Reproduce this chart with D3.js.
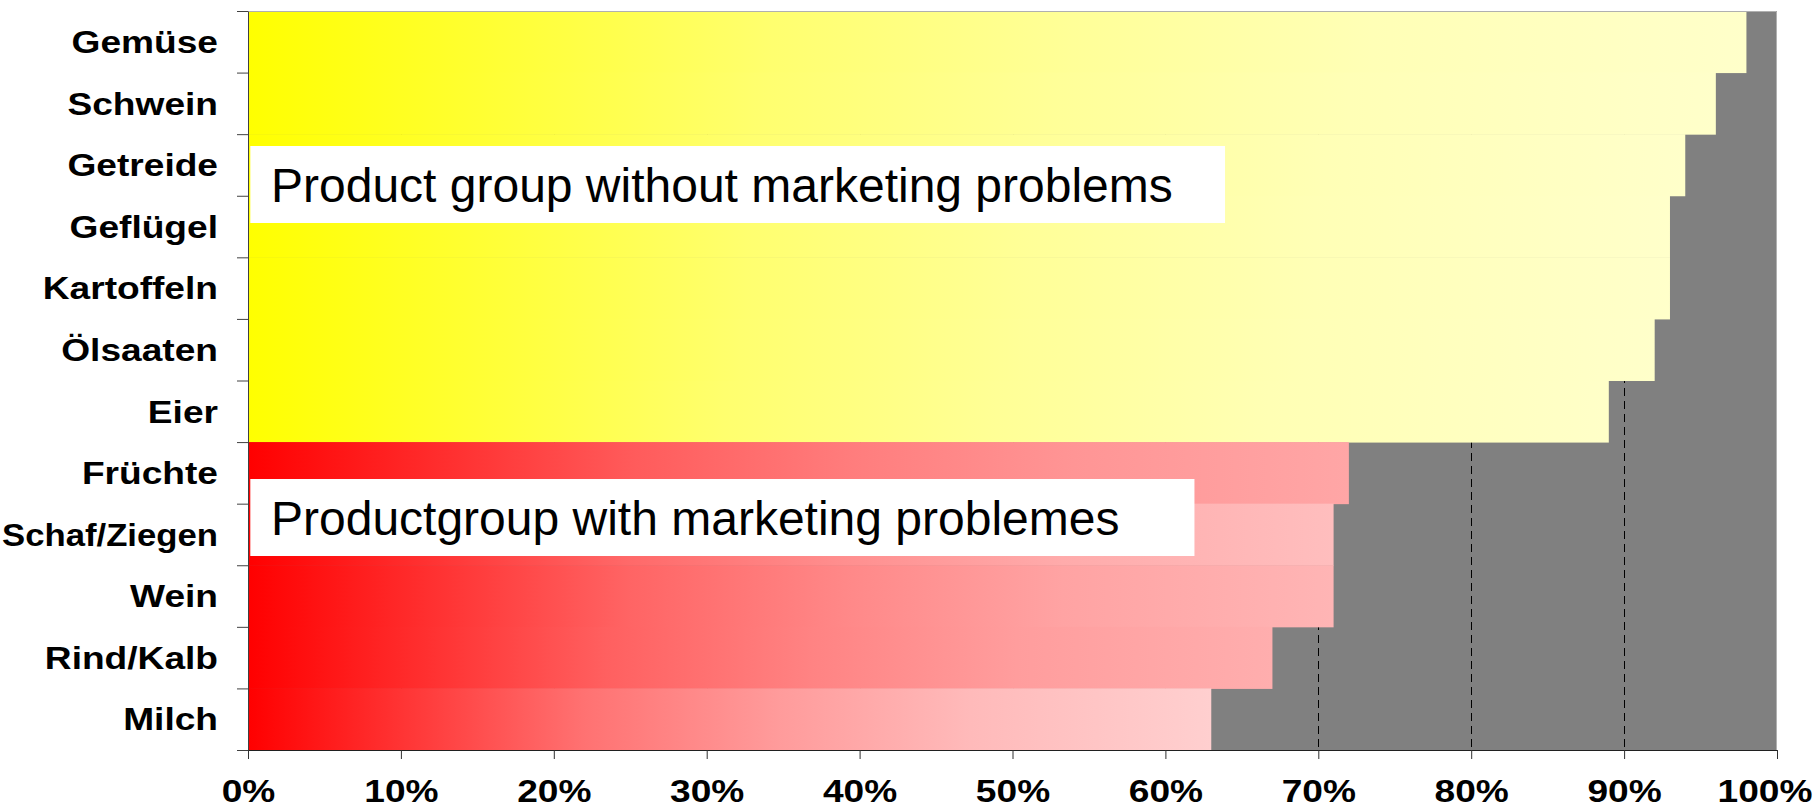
<!DOCTYPE html>
<html>
<head>
<meta charset="utf-8">
<script src="https://cdn.jsdelivr.net/npm/d3@7/dist/d3.min.js"></script>
<style>
  html, body { margin: 0; padding: 0; background: #ffffff; overflow: hidden; }
  svg { display: block; font-family: "Liberation Sans", Arial, sans-serif; }
</style>
</head>
<body>
<svg id="chart" width="1814" height="808"></svg>
<script>
// Product groups and their share (in %)
const categories = ["Gemüse", "Schwein", "Getreide", "Geflügel", "Kartoffeln", "Ölsaaten", "Eier",
                    "Früchte", "Schaf/Ziegen", "Wein", "Rind/Kalb", "Milch"];
const shares = [98, 96, 94, 93, 93, 92, 89, 72, 71, 71, 67, 63];
// group: 0 = without marketing problems, 1 = with marketing problems
const groups = [0, 0, 0, 0, 0, 0, 0, 1, 1, 1, 1, 1];
const xTicks = [0, 10, 20, 30, 40, 50, 60, 70, 80, 90, 100];
const groupLabels = ["Product group without marketing problems", "Productgroup with marketing problemes"];

// fill colours: start colour per group, light end colour per bar
const groupStart = ["#ffff00", "#ff0000"];
const barEnd = ["#ffffca", "#ffffca", "#ffffca", "#ffffca", "#ffffca", "#ffffca", "#ffffc8",
                "#ffa6a6", "#ffbebe", "#ffb5b5", "#ffaeae", "#ffcfcf"];
// shape of the fade along each bar: [offset, mix]
const fadeStops = [[0, 0], [0.35, 0.55], [0.55, 0.75], [0.75, 0.9], [1, 1]];

const W = 1814, H = 808;
const plot = { left: 248, top: 11, right: 1777, bottom: 750 };
const labelScaleX = 1.16;
const labelSize = 32;
const labelRight = 218;

const svg = d3.select("#chart");

const x = d3.scaleLinear().domain([0, 100]).range([plot.left, plot.right]);
const y = d3.scaleBand().domain(categories).range([plot.top, plot.bottom]).padding(0);
const yEdge = d3.scaleLinear().domain([0, categories.length]).range([plot.top, plot.bottom]);

// gradients, one per bar
const defs = svg.append("defs");
categories.forEach((c, i) => {
  const g = defs.append("linearGradient").attr("id", "fade" + i)
    .attr("x1", "0%").attr("x2", "100%").attr("y1", "0%").attr("y2", "0%");
  const mix = d3.interpolateRgb(groupStart[groups[i]], barEnd[i]);
  fadeStops.forEach(([o, m]) => {
    g.append("stop").attr("offset", o).attr("stop-color", mix(m));
  });
});

// plot area background
svg.append("rect")
  .attr("x", plot.left).attr("y", plot.top)
  .attr("width", plot.right - plot.left).attr("height", plot.bottom - plot.top)
  .attr("fill", "#808080");

// dashed vertical gridlines
svg.append("g").selectAll("line")
  .data(xTicks.filter(d => d > 0 && d < 100))
  .join("line")
  .attr("x1", d => Math.round(x(d)) + 0.5).attr("x2", d => Math.round(x(d)) + 0.5)
  .attr("y1", plot.top).attr("y2", plot.bottom)
  .attr("stroke", "#000").attr("stroke-width", 1).attr("stroke-dasharray", "8,5");

// bars
svg.append("g").selectAll("rect")
  .data(categories)
  .join("rect")
  .attr("x", x(0))
  .attr("y", d => y(d))
  .attr("width", (d, i) => x(shares[i]) - x(0))
  .attr("height", y.bandwidth() + 0.5)
  .attr("fill", (d, i) => `url(#fade${i})`);

// plot border (top / right)
svg.append("path")
  .attr("d", `M${plot.left},${plot.top + 0.5}H${plot.right - 0.5}V${plot.bottom}`)
  .attr("fill", "none").attr("stroke", "#b0b0b0").attr("stroke-width", 1);

// group annotations
const boxes = [
  { text: groupLabels[0], y0: 146, x1: 63.9 },
  { text: groupLabels[1], y0: 479, x1: 61.9 }
];
const ann = svg.append("g").selectAll("g").data(boxes).join("g");
ann.append("rect")
  .attr("x", x(0.15)).attr("y", d => d.y0)
  .attr("width", d => x(d.x1) - x(0.15)).attr("height", 77)
  .attr("fill", "#ffffff");
ann.append("text")
  .attr("x", 271).attr("y", d => d.y0 + 56)
  .attr("font-size", 48).attr("fill", "#000")
  .text(d => d.text);

// left axis: line, ticks at band edges, category labels
const leftAxis = svg.append("g").attr("transform", `translate(${plot.left},0)`);
leftAxis.call(d3.axisLeft(yEdge).tickValues(d3.range(categories.length + 1))
  .tickSize(11).tickSizeOuter(0).tickFormat(""));
leftAxis.select(".domain").attr("stroke", "#404040");
leftAxis.selectAll(".tick line").attr("stroke", "#404040");

svg.append("g").selectAll("g")
  .data(categories)
  .join("g")
  .attr("transform", d => `translate(${labelRight},${y(d) + y.bandwidth() / 2})`)
  .append("text")
  .attr("text-anchor", "end")
  .attr("dy", "0.35em")
  .attr("font-size", labelSize).attr("font-weight", "bold").attr("fill", "#000")
  .text(d => d)
  .attr("transform", function () {
    // widen like the rest, but keep long names inside the page
    const w = this.getComputedTextLength();
    const s = Math.min(labelScaleX, (labelRight - 2) / w);
    return `scale(${s},1)`;
  });

// bottom axis
const bottomAxis = svg.append("g").attr("transform", `translate(0,${plot.bottom})`);
bottomAxis.call(d3.axisBottom(x).tickValues(xTicks).tickSize(9).tickSizeOuter(0)
  .tickPadding(20).tickFormat(d => d + "%"));
bottomAxis.select(".domain").attr("stroke", "#202020");
bottomAxis.selectAll(".tick line").attr("stroke", "#303030");
bottomAxis.selectAll(".tick text")
  .attr("font-size", labelSize).attr("font-weight", "bold").attr("fill", "#000")
  .attr("font-family", "'Liberation Sans', Arial, sans-serif")
  .each(function (d) {
    // keep the last label inside the right page edge
    const w = this.getComputedTextLength() * labelScaleX;
    const right = x(d) + w / 2;
    const shift = Math.min(0, (W - 2) - right);
    d3.select(this).attr("transform", `translate(${shift},0) scale(${labelScaleX},1)`);
  });
</script>
</body>
</html>
